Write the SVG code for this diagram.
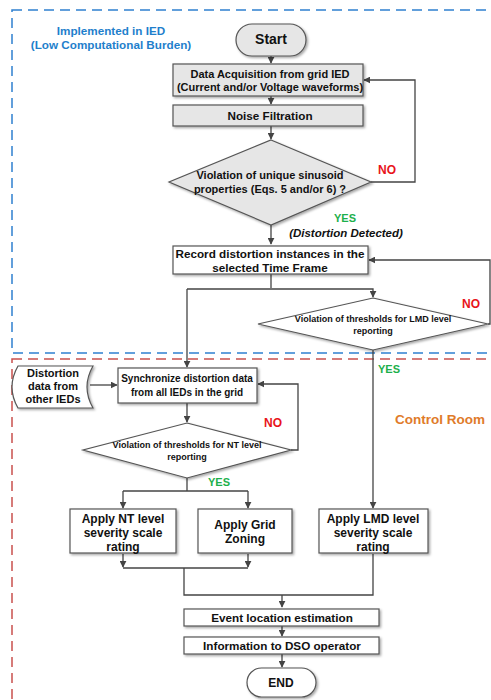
<svg xmlns="http://www.w3.org/2000/svg" width="491" height="700" viewBox="0 0 491 700">
<defs>
<marker id="ah" viewBox="0 0 10 10" refX="9" refY="5" markerWidth="7" markerHeight="7" orient="auto" markerUnits="userSpaceOnUse">
<path d="M0,0 L10,5 L0,10 z" fill="#444"/>
</marker>
<filter id="sh" x="-10%" y="-10%" width="130%" height="140%">
<feDropShadow dx="1.5" dy="1.5" stdDeviation="0.8" flood-color="#000" flood-opacity="0.35"/>
</filter>
</defs>
<style>
text{font-family:"Liberation Sans",Arial,sans-serif;font-weight:bold;text-anchor:middle;fill:#111}
.b{stroke:#555;stroke-width:1.2;filter:url(#sh)}
.g{fill:#e6e6e6}
.w{fill:#fff}
.t{font-size:11px}
.m{font-size:11.7px}
.s{font-size:9px}
.l{font-size:12px}
.c{fill:none;stroke:#444;stroke-width:1.3}
.no{fill:#e8141b;font-size:12px}
.yes{fill:#1db04b;font-size:11px}
</style>
<rect x="12" y="10" width="490" height="343" fill="none" stroke="#2f80d0" stroke-width="1.5" stroke-dasharray="10,6"/>
<rect x="12" y="359" width="490" height="360" fill="none" stroke="#c9504d" stroke-width="1.5" stroke-dasharray="10,6"/>
<text x="111" y="35" style="fill:#1f7fcc;font-size:11.7px">Implemented in IED</text>
<text x="111" y="49" style="fill:#1f7fcc;font-size:11.7px">(Low Computational Burden)</text>
<text x="440" y="424" style="fill:#e07b2a;font-size:13.5px">Control Room</text>
<g id="connectors">
<path class="c" d="M271,56 V63" marker-end="url(#ah)"/>
<path class="c" d="M271,96 V104" marker-end="url(#ah)"/>
<path class="c" d="M271,126 V139" marker-end="url(#ah)"/>
<path class="c" d="M371,182 H415 V80 H364" marker-end="url(#ah)"/>
<path class="c" d="M271,225 V244" marker-end="url(#ah)"/>
<path class="c" d="M271,274 V288"/>
<path class="c" d="M187,289 H373 V297" marker-end="url(#ah)"/>
<path class="c" d="M187,289 V367" marker-end="url(#ah)"/>
<path class="c" d="M488,324 H490 V260 H369" marker-end="url(#ah)"/>
<path class="c" d="M373,350 V508" marker-end="url(#ah)"/>
<path class="c" d="M90,385 H117" marker-end="url(#ah)"/>
<path class="c" d="M187,403 V422" marker-end="url(#ah)"/>
<path class="c" d="M291,450 H298 V384 H258" marker-end="url(#ah)"/>
<path class="c" d="M187,478 V491"/>
<path class="c" d="M123,491 H248"/>
<path class="c" d="M123,491 V508" marker-end="url(#ah)"/>
<path class="c" d="M248,491 V508" marker-end="url(#ah)"/>
<path class="c" d="M123,554 V567" marker-end="url(#ah)"/>
<path class="c" d="M248,554 V567" marker-end="url(#ah)"/>
<path class="c" d="M123,568 H248"/>
<path class="c" d="M184,568 V595 H373 V554"/>
<path class="c" d="M282,595 V607" marker-end="url(#ah)"/>
<path class="c" d="M282,626 V636" marker-end="url(#ah)"/>
<path class="c" d="M282,654 V667" marker-end="url(#ah)"/>
</g>
<g id="start"><rect class="b g" x="236" y="24" width="70" height="32" rx="16"/><text x="271" y="44" style="font-size:14px">Start</text></g>
<g id="acq"><rect class="b g" x="173" y="64" width="190" height="32"/><text class="t" x="270" y="78">Data Acquisition from grid IED</text><text class="t" x="270" y="91">(Current and/or Voltage waveforms)</text></g>
<g id="noise"><rect class="b g" x="173" y="105" width="190" height="21"/><text class="m" x="270" y="120">Noise Filtration</text></g>
<g id="dec1"><polygon class="b g" points="271,140 371,182 271,225 169,182"/><text class="t" x="270" y="179">Violation of unique sinusoid</text><text class="t" x="270" y="193">properties (Eqs. 5 and/or 6) ?</text></g>
<text class="no" x="387" y="174">NO</text>
<text class="yes" x="345" y="222">YES</text>
<text x="346" y="237" style="font-size:11.5px;font-style:italic">(Distortion Detected)</text>
<g id="record"><rect class="b w" x="173" y="246" width="195" height="28"/><text class="m" x="270" y="258">Record distortion instances in the</text><text class="m" x="270" y="272">selected Time Frame</text></g>
<g id="dec2"><polygon class="b w" points="373,298 488,324 373,350 258,324"/><text class="s" x="373" y="322">Violation of thresholds for LMD level</text><text class="s" x="373" y="334">reporting</text></g>
<text class="no" x="471" y="308">NO</text>
<text class="yes" x="389" y="373">YES</text>
<g id="other"><path class="b w" d="M18,366 H93 Q81,387 93,408 H18 Q6,387 18,366 z"/><text class="t" x="53" y="377">Distortion</text><text class="t" x="53" y="390">data from</text><text class="t" x="53" y="403">other IEDs</text></g>
<g id="sync"><rect class="b w" x="118" y="368" width="139" height="35"/><text x="187" y="382" style="font-size:10px">Synchronize distortion data</text><text x="187" y="396" style="font-size:10px">from all IEDs in the grid</text></g>
<g id="dec3"><polygon class="b w" points="187,423 291,450 187,478 83,450"/><text class="s" x="187" y="448">Violation of thresholds for NT level</text><text class="s" x="187" y="460">reporting</text></g>
<text class="no" x="273" y="427">NO</text>
<text class="yes" x="219" y="486">YES</text>
<g id="nt"><rect class="b w" x="70" y="509" width="106" height="44"/><text class="l" x="123" y="523">Apply NT level</text><text class="l" x="123" y="537">severity scale</text><text class="l" x="123" y="551">rating</text></g>
<g id="grid"><rect class="b w" x="198" y="509" width="94" height="44"/><text class="l" x="245" y="529">Apply Grid</text><text class="l" x="245" y="543">Zoning</text></g>
<g id="lmd"><rect class="b w" x="319" y="509" width="109" height="44"/><text class="l" x="373" y="523">Apply LMD level</text><text class="l" x="373" y="537">severity scale</text><text class="l" x="373" y="551">rating</text></g>
<g id="event"><rect class="b w" x="184" y="609" width="195" height="17"/><text class="m" x="282" y="622">Event location estimation</text></g>
<g id="info"><rect class="b w" x="184" y="637" width="195" height="17"/><text class="m" x="282" y="650">Information to DSO operator</text></g>
<g id="end"><rect class="b w" x="247" y="668" width="69" height="29" rx="14.5"/><text x="281" y="687" style="font-size:12px">END</text></g>
</svg>
